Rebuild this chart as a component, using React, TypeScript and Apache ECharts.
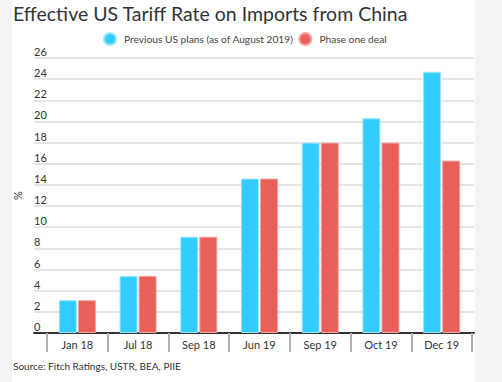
import React, { useEffect, useRef } from "react";
import * as echarts from "echarts";

const categories = ["Jan 18", "Jul 18", "Sep 18", "Jun 19", "Sep 19", "Oct 19", "Dec 19"];
const previousPlans = [3.1, 5.4, 9.1, 14.6, 18.0, 20.3, 24.7];
const phaseOne = [3.1, 5.4, 9.1, 14.6, 18.0, 18.0, 16.3];
const seriesNames = ["Previous US plans (as of August 2019)", "Phase one deal"];
const titleText = "Effective US Tariff Rate on Imports from China";
const sourceText = "Source: Fitch Ratings, USTR, BEA, PIIE";

const FONT = "Lato, 'Open Sans', sans-serif";
const BLUE = "#33ccfe";
const RED = "#e9605a";

export default function App() {
  const ref = useRef<HTMLDivElement>(null);
  useEffect(() => {
    if (!ref.current) return;
    const chart = echarts.init(ref.current, undefined, { renderer: "svg" });
    chart.setOption({
      animation: false,
      backgroundColor: "transparent",
      textStyle: { fontFamily: FONT },
      title: {
        text: titleText,
        left: 8,
        top: -2,
        textStyle: { fontFamily: FONT, fontSize: 19.5, fontWeight: "normal", color: "#333" },
      },
      legend: {
        left: 98,
        top: 27,
        icon: "circle",
        itemWidth: 18,
        itemHeight: 12,
        itemGap: 5,
        textStyle: { fontFamily: FONT, fontSize: 10.2, color: "#444" },
        data: seriesNames,
      },
      grid: [
        { left: 34, right: 28, top: 58, bottom: 49 },
        { left: 47, right: 30, top: 58, bottom: 49 },
      ],
      xAxis: [
        {
          type: "value",
          gridIndex: 0,
          min: 0,
          max: 1,
          axisLine: { show: true, lineStyle: { color: "#333", width: 2 } },
          axisTick: { show: false },
          axisLabel: { show: false },
          splitLine: { show: false },
        },
        {
          type: "category",
          gridIndex: 1,
          data: categories,
          axisLine: { show: false },
          axisTick: { show: true, length: 19, lineStyle: { color: "#b0b0b0", width: 2 } },
          axisLabel: { color: "#333", fontSize: 11, fontFamily: FONT, margin: 6 },
        },
      ],
      yAxis: [
        {
          type: "value",
          gridIndex: 0,
          min: 0,
          max: 26,
          interval: 2,
          name: "%",
          nameLocation: "middle",
          nameGap: -4,
          nameTextStyle: { color: "#333", fontSize: 11, fontFamily: FONT },
          axisLine: { show: false },
          axisTick: { show: false },
          axisLabel: {
            inside: true,
            margin: 0,
            color: "#333",
            fontSize: 11,
            fontFamily: FONT,
            verticalAlign: "bottom",
            padding: [0, 0, 1, 0],
          },
          splitLine: { show: true, lineStyle: { color: "#dcdcdc", width: 1.5 } },
        },
        {
          type: "value",
          gridIndex: 1,
          min: 0,
          max: 26,
          interval: 2,
          show: false,
          splitLine: { show: false },
        },
      ],
      series: [
        {
          name: seriesNames[0],
          type: "bar",
          xAxisIndex: 1,
          yAxisIndex: 1,
          data: previousPlans,
          barWidth: 18,
          barGap: "6%",
          itemStyle: { color: BLUE, borderColor: "#9ae6ff", borderWidth: 1 },
        },
        {
          name: seriesNames[1],
          type: "bar",
          xAxisIndex: 1,
          yAxisIndex: 1,
          data: phaseOne,
          barWidth: 18,
          barGap: "6%",
          itemStyle: { color: RED, borderColor: "#f5a29d", borderWidth: 1 },
        },
      ],
      graphic: [
        {
          type: "text",
          left: 13,
          top: 361,
          style: { text: sourceText, fill: "#333", fontSize: 10, fontFamily: FONT },
        },
      ],
    });
    return () => chart.dispose();
  }, []);

  return (
    <div style={{ position: "absolute", left: 0, top: 0, width: 502, height: 382, background: "#f4f4f4" }}>
      <div style={{ position: "absolute", left: 12, top: 0, width: 463, height: 382, background: "#fff" }} />
      <div ref={ref} style={{ position: "absolute", left: 0, top: 0, width: 502, height: 382 }} />
    </div>
  );
}
